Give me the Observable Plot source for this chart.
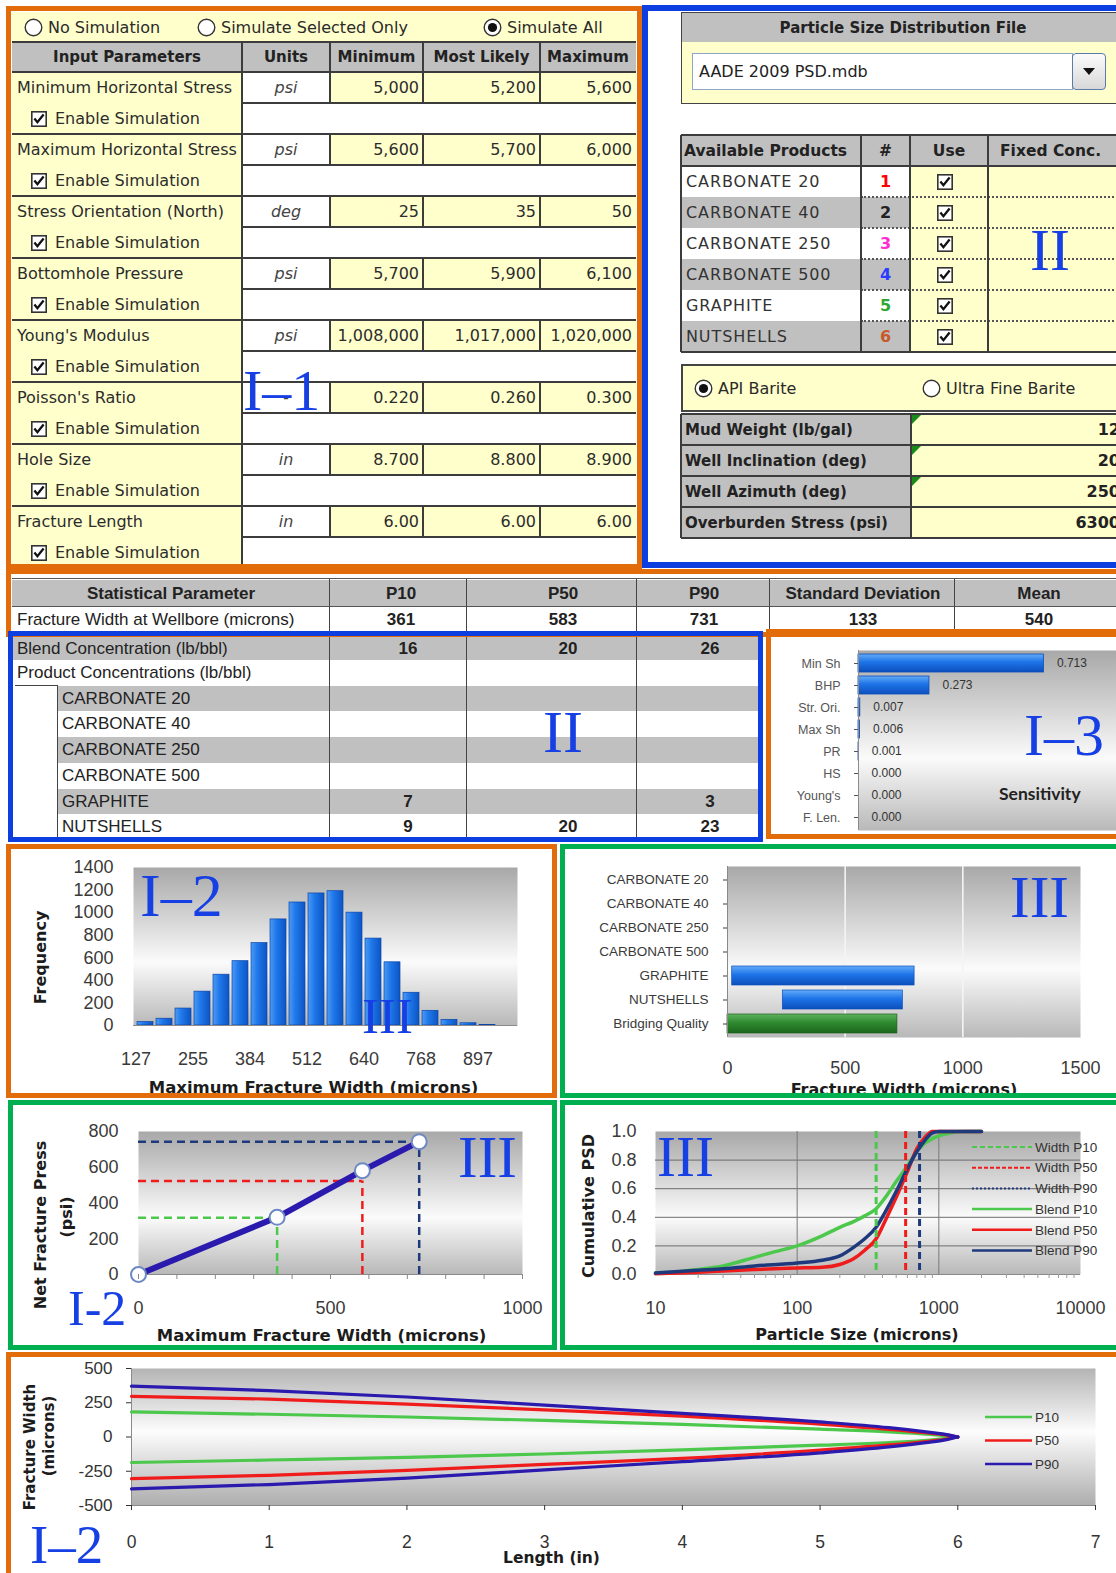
<!DOCTYPE html>
<html>
<head>
<meta charset="utf-8">
<script src="https://cdn.jsdelivr.net/npm/d3@7"></script>
<script src="https://cdn.jsdelivr.net/npm/@observablehq/plot@0.6"></script>
<style>
html,body{margin:0;padding:0;background:#fff;}
#page{position:relative;width:1116px;height:1573px;overflow:hidden;background:#fff;font-family:"DejaVu Sans",Verdana,sans-serif;color:#2c2c2c;}
.cell{position:absolute;box-sizing:border-box;display:flex;align-items:center;white-space:nowrap;overflow:hidden;}
.chart{position:absolute;z-index:5;}
.chart svg{max-width:none !important;background:transparent;overflow:visible;}
.big{position:absolute;z-index:30;font-family:"Liberation Serif","Times New Roman",serif;color:#1740e4;line-height:1;white-space:nowrap;}
</style>
</head>
<body>
<svg width="0" height="0" style="position:absolute">
<defs>
 <linearGradient id="plotBg" x1="0" y1="0" x2="0" y2="1">
  <stop offset="0" stop-color="#a8a8a8"/>
  <stop offset="0.6" stop-color="#fbfbfb"/>
  <stop offset="1" stop-color="#b8b8b8"/>
 </linearGradient>
 <linearGradient id="plotBg2" x1="0" y1="0" x2="0" y2="1">
  <stop offset="0" stop-color="#b4b4b4"/>
  <stop offset="0.46" stop-color="#fdfdfd"/>
  <stop offset="1" stop-color="#adadad"/>
 </linearGradient>
 <linearGradient id="barV" x1="0" y1="0" x2="1" y2="0">
  <stop offset="0" stop-color="#4d9af3"/>
  <stop offset="0.4" stop-color="#1f78ea"/>
  <stop offset="1" stop-color="#0d54c4"/>
 </linearGradient>
 <linearGradient id="barH" x1="0" y1="0" x2="0" y2="1">
  <stop offset="0" stop-color="#64acf8"/>
  <stop offset="0.45" stop-color="#1d74e8"/>
  <stop offset="1" stop-color="#0c4fbc"/>
 </linearGradient>
 <linearGradient id="barHG" x1="0" y1="0" x2="0" y2="1">
  <stop offset="0" stop-color="#5fb35f"/>
  <stop offset="0.45" stop-color="#2f8a2f"/>
  <stop offset="1" stop-color="#1c661c"/>
 </linearGradient>
</defs>
</svg>
<div id="page"></div>
<script>
// ================= DATA =================
const simOptions = ["No Simulation", "Simulate Selected Only", "Simulate All"];
const inputHeaders = ["Input Parameters", "Units", "Minimum", "Most Likely", "Maximum"];
const inputParams = ["Minimum Horizontal Stress", "Maximum Horizontal Stress", "Stress Orientation (North)", "Bottomhole Pressure", "Young's Modulus", "Poisson's Ratio", "Hole Size", "Fracture Length"];
const inputUnits = ["psi", "psi", "deg", "psi", "psi", "-", "in", "in"];
const inputMin = ["5,000", "5,600", "25", "5,700", "1,008,000", "0.220", "8.700", "6.00"];
const inputLikely = ["5,200", "5,700", "35", "5,900", "1,017,000", "0.260", "8.800", "6.00"];
const inputMax = ["5,600", "6,000", "50", "6,100", "1,020,000", "0.300", "8.900", "6.00"];
const enableLabel = "Enable Simulation";

const psdFileTitle = "Particle Size Distribution File";
const psdFile = "AADE 2009 PSD.mdb";
const productHeaders = ["Available Products", "#", "Use", "Fixed Conc."];
const products = ["CARBONATE 20", "CARBONATE 40", "CARBONATE 250", "CARBONATE 500", "GRAPHITE", "NUTSHELLS"];
const productNumbers = ["1", "2", "3", "4", "5", "6"];
const bariteOptions = ["API Barite", "Ultra Fine Barite"];
const mudParams = ["Mud Weight (lb/gal)", "Well Inclination (deg)", "Well Azimuth (deg)", "Overburden Stress (psi)"];
const mudValues = ["12", "20", "250", "6300"];

const statHeaders = ["Statistical Parameter", "P10", "P50", "P90", "Standard Deviation", "Mean"];
const statRowLabel = "Fracture Width at Wellbore (microns)";
const statValues = ["361", "583", "731", "133", "540"];

const blendRowLabels = ["Blend Concentration (lb/bbl)", "Product Concentrations (lb/bbl)"];
const blendTotals = ["16", "20", "26"];
const productConcP10 = ["", "", "", "", "7", "9"];
const productConcP50 = ["", "", "", "", "", "20"];
const productConcP90 = ["", "", "", "", "3", "23"];

const sensLabels = ["Min Sh", "BHP", "Str. Ori.", "Max Sh", "PR", "HS", "Young's", "F. Len."];
const sensValues = [0.713, 0.273, 0.007, 0.006, 0.001, 0.000, 0.000, 0.000];
const sensTitle = "Sensitivity";

const histBins = [127, 170, 212, 255, 298, 341, 384, 426, 469, 512, 555, 598, 640, 683, 726, 768, 811, 854, 897, 940];
const histFreq = [30, 60, 150, 300, 450, 570, 730, 940, 1090, 1170, 1190, 1000, 770, 560, 290, 130, 50, 20, 5, 0];
const histTicks = [127, 255, 384, 512, 640, 768, 897];
const histYTicks = [0, 200, 400, 600, 800, 1000, 1200, 1400];

const bqCats = ["CARBONATE 20", "CARBONATE 40", "CARBONATE 250", "CARBONATE 500", "GRAPHITE", "NUTSHELLS", "Bridging Quality"];
const bqLow = [null, null, null, null, 20, 235, 0];
const bqHigh = [null, null, null, null, 795, 745, 722];
const bqTicks = [0, 500, 1000, 1500];
const bqGrid = [500, 1000];

const nfWidth = [0, 361, 583, 731];
const nfPress = [0, 320, 581, 743];
const nfGuideWidth = [361, 583, 731];
const nfGuidePress = [318, 523, 743];
const nfTicks = [0, 500, 1000];
const nfMinorTicks = [0, 100, 200, 300, 400, 500, 600, 700, 800, 900, 1000];
const nfYTicks = [0, 200, 400, 600, 800];

const psdP10Size = [10, 15, 20, 30, 50, 70, 100, 150, 200, 250, 300, 361, 420, 500, 600, 700, 800, 900, 1000, 1200, 1500, 2000];
const psdP10Cum = [0.01, 0.02, 0.035, 0.06, 0.12, 0.16, 0.20, 0.27, 0.33, 0.37, 0.41, 0.46, 0.54, 0.65, 0.76, 0.86, 0.92, 0.95, 0.97, 0.99, 1.0, 1.0];
const psdP50Size = [10, 20, 30, 50, 100, 150, 200, 250, 300, 361, 420, 500, 600, 700, 800, 900, 1000, 2000];
const psdP50Cum = [0.005, 0.015, 0.025, 0.035, 0.045, 0.05, 0.07, 0.11, 0.17, 0.25, 0.38, 0.54, 0.72, 0.88, 0.96, 1.0, 1.0, 1.0];
const psdP90Size = [10, 20, 30, 50, 100, 150, 200, 250, 300, 361, 420, 500, 600, 700, 800, 900, 1000, 2000];
const psdP90Cum = [0.01, 0.03, 0.04, 0.06, 0.08, 0.10, 0.13, 0.19, 0.25, 0.33, 0.44, 0.58, 0.74, 0.86, 0.94, 0.99, 1.0, 1.0];
const psdWidthLines = [361, 583, 731];
const psdLegendLabels = ["Width P10", "Width P50", "Width P90", "Blend P10", "Blend P50", "Blend P90"];
const psdXTicks = [10, 100, 1000, 10000];
const psdMinorTicks = [20, 30, 40, 50, 60, 70, 80, 90, 200, 300, 400, 500, 600, 700, 800, 900, 2000, 3000, 4000, 5000, 6000, 7000, 8000, 9000];
const psdYTicks = [0, 0.2, 0.4, 0.6, 0.8, 1.0];
const psdGridY = [0.2, 0.4, 0.6, 0.8];
const psdGridX = [100, 1000];

const flLength = [0, 1, 2, 3, 4, 5, 5.5, 5.8, 5.9, 6];
const flP10Upper = [183, 166, 146, 121, 92, 57, 37, 19, 11, 0];
const flP10Lower = [-186, -168, -149, -124, -94, -60, -40, -22, -12, 0];
const flP50Upper = [297, 277, 240, 198, 153, 94, 56, 28, 17, 0];
const flP50Lower = [-304, -280, -243, -200, -156, -96, -58, -29, -18, 0];
const flP90Upper = [371, 339, 292, 232, 172, 110, 68, 34, 21, 0];
const flP90Lower = [-379, -347, -300, -240, -180, -116, -72, -37, -23, 0];
const flLegendLabels = ["P10", "P50", "P90"];
const flXTicks = [0, 1, 2, 3, 4, 5, 6, 7];
const flYTicks = [-500, -250, 0, 250, 500];

// ================= STYLES =================
const Y = "#ffffcc", G = "#c0c0c0", LINE = "#3c3c3c";
const ORANGE = "#e36c0a", BLUE = "#0d3fe0", GREEN = "#00b050";
const numColors = ["#ff0000", "#222222", "#ff2bd0", "#2a3cff", "#2ea82e", "#c65a28"];
const cGreen = "#4cc84c", cRed = "#f01c1c", cNavy = "#1f3a7c", cPurple = "#2a1aae";

const page = document.getElementById("page");
function cell(x, y, w, h, o = {}) {
  const d = document.createElement("div");
  d.className = "cell";
  d.style.left = x + "px"; d.style.top = y + "px";
  if (w != null) d.style.width = w + "px";
  if (h != null) d.style.height = h + "px";
  if (o.bg) d.style.background = o.bg;
  if (o.style) Object.assign(d.style, o.style);
  if (o.html != null) d.innerHTML = o.html;
  page.appendChild(d);
  return d;
}
function hline(x1, x2, y, w = 2, c = LINE, st = "solid") {
  cell(x1, y - w / 2, x2 - x1, w, {style: {borderTop: `${w}px ${st} ${c}`, zIndex: 3}});
}
function vline(x, y1, y2, w = 2, c = LINE) {
  cell(x - w / 2, y1, w, y2 - y1, {style: {borderLeft: `${w}px solid ${c}`, zIndex: 3}});
}
function frameBox(x, y, w, h, c, bw = 5) {
  cell(x, y, w, h, {style: {border: `${bw}px solid ${c}`, zIndex: 20, background: "transparent"}});
}
function big(t, x, capTop, size) {
  const d = document.createElement("div");
  d.className = "big"; d.textContent = t;
  d.style.left = x + "px"; d.style.top = (capTop - 0.1755 * size) + "px"; d.style.fontSize = size + "px";
  page.appendChild(d);
}
const checkbox = () => `<svg width="16" height="16" viewBox="0 0 16 16" style="flex:none"><rect x="0.8" y="0.8" width="14.4" height="14.4" fill="#fff" stroke="#333" stroke-width="1.6"/><path d="M3.4 7.6 L6.4 11.2 L12.6 3.6" fill="none" stroke="#111" stroke-width="2.3"/></svg>`;
const radio = on => `<svg width="19" height="19" viewBox="0 0 19 19" style="flex:none"><circle cx="9.5" cy="9.5" r="8.3" fill="#fff" stroke="#333" stroke-width="1.4"/>${on ? '<circle cx="9.5" cy="9.5" r="4.6" fill="#111"/>' : ''}</svg>`;
function place(svg, x, y) {
  const d = document.createElement("div");
  d.className = "chart"; d.style.left = x + "px"; d.style.top = y + "px";
  d.appendChild(svg); page.appendChild(d);
}
const baseStyle = {background: "transparent", overflow: "visible", fontFamily: "'Liberation Sans', Arial, sans-serif", fontSize: "18px", color: "#333"};
const axisTitle = (t, o) => Plot.text([t], {text: d => d, fontFamily: "'DejaVu Sans', sans-serif", fontWeight: "bold", fontSize: 16, fill: "#1c1c1c", lineAnchor: "middle", textAnchor: "middle", ...o});
const fmt = d => String(d);

// ================= PANEL I-1 : input parameters =================
const col1 = [12, 242, 330, 423, 540, 636];
cell(12, 12, 624, 30, {bg: Y});
const simX = [24, 197, 483];
simOptions.forEach((t, i) => cell(simX[i], 12, null, 30, {html: radio(i === 2) + `<span style="margin-left:5px">${t}</span>`, style: {fontSize: "16px", color: "#2a2a2a"}}));
cell(12, 42, 624, 30, {bg: G});
inputHeaders.forEach((h, j) => cell(col1[j], 42, col1[j + 1] - col1[j], 30, {html: h, style: {justifyContent: "center", fontWeight: "bold", fontSize: "15px", color: "#222"}}));
hline(12, 636, 42, 2); hline(12, 636, 72, 2.5);
for (let j = 1; j < 5; j++) vline(col1[j], 42, 72, 2);
inputParams.forEach((p, i) => {
  const y0 = 72 + 62 * i;
  cell(12, y0, 230, 31, {bg: Y, html: p, style: {paddingLeft: "5px", fontSize: "16px"}});
  cell(12, y0 + 31, 230, 31, {bg: Y, html: checkbox() + `<span style="margin-left:8px">${enableLabel}</span>`, style: {paddingLeft: "19px", fontSize: "16px"}});
  cell(242, y0, 88, 31, {bg: "#fff", html: inputUnits[i], style: {justifyContent: "center", fontStyle: "italic", fontSize: "16px", color: "#444"}});
  [inputMin, inputLikely, inputMax].forEach((arr, k) => cell(col1[k + 2], y0, col1[k + 3] - col1[k + 2], 31, {bg: Y, html: arr[i], style: {justifyContent: "flex-end", paddingRight: "4px", fontSize: "16px"}}));
  cell(242, y0 + 31, 394, 31, {bg: "#fff"});
  hline(12, 636, y0, 2); hline(242, 636, y0 + 31, 2);
  vline(242, y0, y0 + 62, 2);
  for (let k = 2; k < 5; k++) vline(col1[k], y0, y0 + 31, 2);
});

// ================= PANEL II : PSD & products =================
const R1 = 1125;
cell(681, 12, R1 - 681, 31, {bg: G, html: psdFileTitle, style: {justifyContent: "center", fontWeight: "bold", fontSize: "15px", border: "1.5px solid #444", color: "#222"}});
cell(681, 42, R1 - 681, 62, {bg: Y, style: {border: "1.5px solid #444", borderTop: "none"}});
cell(692, 53, 381, 37, {bg: "#fff", html: psdFile, style: {border: "1.5px solid #8ea6c8", paddingLeft: "6px", fontSize: "16px", color: "#222"}});
cell(1072, 53, 34, 37, {html: `<svg width="14" height="9"><path d="M1 1 L13 1 L7 8 Z" fill="#111"/></svg>`, style: {justifyContent: "center", background: "linear-gradient(#fbfbfb,#d8d8d8)", border: "1.5px solid #5b7bab", borderRadius: "4px", zIndex: 4}});

const pc = [681, 861, 910, 988, R1];
cell(681, 135, R1 - 681, 31, {bg: G});
productHeaders.forEach((h, j) => cell(pc[j], 135, pc[j + 1] - pc[j], 31, {html: h, style: {fontWeight: "bold", fontSize: "15.5px", color: "#222", justifyContent: (j === 1 || j === 2) ? "center" : "flex-start", paddingLeft: j === 0 ? "3px" : (j === 3 ? "12px" : "0")}}));
products.forEach((p, i) => {
  const y0 = 166 + 31 * i, bg = i % 2 ? G : "#fff";
  cell(681, y0, 180, 31, {bg, html: p, style: {paddingLeft: "5px", fontSize: "16px", letterSpacing: "0.9px", color: "#333"}});
  cell(861, y0, 49, 31, {bg, html: productNumbers[i], style: {justifyContent: "center", fontWeight: "bold", fontSize: "16px", color: numColors[i]}});
  cell(910, y0, 78, 31, {bg: Y, html: checkbox(), style: {justifyContent: "center", paddingRight: "8px"}});
  cell(988, y0, R1 - 988, 31, {bg: Y});
  if (i > 0) hline(861, R1, y0, 2, "#555", "dotted");
});
hline(681, R1, 135, 2); hline(681, R1, 166, 2); hline(681, R1, 352, 2.5);
[681, 861, 910, 988].forEach(x => vline(x, 135, 352, 2));

cell(681, 364, R1 - 681, 48, {bg: Y, style: {border: "2px solid #444"}});
[694, 922].forEach((x, i) => cell(x, 366, null, 44, {html: radio(i === 0) + `<span style="margin-left:5px">${bariteOptions[i]}</span>`, style: {fontSize: "16px", color: "#2a2a2a"}}));
mudParams.forEach((m, k) => {
  const y0 = 414 + 31 * k;
  cell(681, y0, 230, 31, {bg: G, html: m, style: {paddingLeft: "4px", fontWeight: "bold", fontSize: "15px", color: "#222"}});
  cell(911, y0, R1 - 911, 31, {bg: Y, html: mudValues[k], style: {justifyContent: "flex-end", paddingRight: "5px", fontWeight: "bold", fontSize: "16px", color: "#222"}});
  if (k < 3) cell(912, y0 + 1, 9, 9, {html: `<svg width="9" height="9"><path d="M0 0 L9 0 L0 9 Z" fill="#1a8a1a"/></svg>`, style: {zIndex: 4}});
  hline(681, R1, y0, 2);
});
hline(681, R1, 538, 2.5);
vline(681, 414, 538, 2); vline(911, 414, 538, 2);

// ================= Statistical table =================
const sc = [12, 330, 467, 637, 770, 955];
const sCenters = [171, 401, 563, 704, 863, 1039];
const tFont = "'Liberation Sans', Arial, sans-serif";
cell(12, 580, R1 - 12, 27, {bg: G});
cell(12, 607, R1 - 12, 25, {bg: "#fff"});
statHeaders.forEach((h, j) => cell(sCenters[j] - 110, 580, 220, 27, {html: h, style: {justifyContent: "center", fontWeight: "bold", fontSize: "17px", fontFamily: tFont, color: "#222", zIndex: 4, overflow: "visible"}}));
cell(12, 607, 318, 25, {html: statRowLabel, style: {paddingLeft: "5px", fontSize: "17px", fontFamily: tFont, color: "#222"}});
statValues.forEach((v, j) => cell(sCenters[j + 1] - 50, 607, 100, 25, {html: v, style: {justifyContent: "center", fontWeight: "bold", fontSize: "17px", fontFamily: tFont, color: "#222"}}));
hline(12, R1, 579, 1.5, "#555"); hline(12, R1, 607, 1.5, "#555");
sc.slice(1).forEach(x => vline(x, 579, 633, 1.5, "#444"));

// ================= Blend table =================
const bRowY = [637, 660, 686, 711, 737, 763, 789, 814, 840];
const bCenters = [408, 568, 710];
for (let r = 0; r < 8; r++) cell(r >= 2 ? 58 : 12, bRowY[r], 760 - (r >= 2 ? 58 : 12), bRowY[r + 1] - bRowY[r], {bg: r % 2 === 0 ? G : "#fff"});
blendRowLabels.forEach((t, r) => cell(12, bRowY[r], 318, bRowY[r + 1] - bRowY[r], {html: t, style: {paddingLeft: "5px", fontSize: "17px", fontFamily: tFont, color: "#222"}}));
blendTotals.forEach((v, j) => cell(bCenters[j] - 40, bRowY[0], 80, 23, {html: v, style: {justifyContent: "center", fontWeight: "bold", fontSize: "17px", fontFamily: tFont, color: "#222"}}));
products.forEach((p, i) => {
  const r = i + 2, y0 = bRowY[r], h = bRowY[r + 1] - y0;
  cell(58, y0, 272, h, {html: p, style: {paddingLeft: "4px", fontSize: "17px", fontFamily: tFont, color: "#222"}});
  [productConcP10, productConcP50, productConcP90].forEach((arr, j) => cell(bCenters[j] - 40, y0, 80, h, {html: arr[i], style: {justifyContent: "center", fontWeight: "bold", fontSize: "17px", fontFamily: tFont, color: "#222"}}));
});
cell(13, 686, 45, 154, {bg: "#fff"});
hline(15, 58, 686, 1.5, "#444"); vline(58, 686, 840, 1.5, "#444");
[330, 467, 637].forEach(x => vline(x, 633, 840, 1.5, "#444"));

// ================= Sensitivity chart =================
const sensData = sensLabels.map((k, i) => ({k, v: sensValues[i]}));
place(Plot.plot({
  width: 350, height: 200, marginLeft: 87, marginRight: 3, marginTop: 14, marginBottom: 6,
  style: {...baseStyle, fontSize: "12.5px"},
  x: {domain: [0, 1], axis: null},
  y: {domain: sensLabels, paddingInner: 0.16, paddingOuter: 0.05},
  marks: [
    Plot.frame({fill: "url(#plotBg)", stroke: "none"}),
    Plot.barX(sensData, {x: "v", y: "k", fill: "url(#barH)", stroke: "#0c4cbc", strokeWidth: 0.8}),
    Plot.ruleX([0], {stroke: "#8c8c8c"}),
    Plot.text(sensData, {x: "v", y: "k", text: d => d.v.toFixed(3), textAnchor: "start", dx: 13, fill: "#333", fontSize: 12}),
    Plot.axisY({tickSize: 4, tickPadding: 14, fontSize: 12.5, color: "#555", label: null})
  ]
}), 771, 636);
cell(999, 781, 110, 24, {html: sensTitle, style: {fontFamily: "Lato, 'Open Sans', sans-serif", fontWeight: "bold", fontSize: "17.5px", color: "#222", zIndex: 8}});

// ================= Histogram =================
const histData = histBins.map((b, i) => ({b, f: histFreq[i]}));
place(Plot.plot({
  width: 539, height: 243, marginLeft: 121, marginRight: 34, marginTop: 17, marginBottom: 68,
  style: baseStyle,
  x: {type: "band", domain: histBins, paddingInner: 0.16, paddingOuter: 0.08},
  y: {domain: [0, 1400]},
  marks: [
    Plot.frame({fill: "url(#plotBg)", stroke: "none"}),
    Plot.barY(histData, {x: "b", y: "f", fill: "url(#barV)", stroke: "#0a46aa", strokeWidth: 0.7}),
    Plot.ruleY([0], {stroke: "#8a8a8a"}),
    Plot.axisX({ticks: histTicks, tickFormat: fmt, tickSize: 0, tickPadding: 27, dx: -9.6, fontSize: 18, color: "#3a3a3a", label: null}),
    Plot.axisY({ticks: histYTicks, tickFormat: fmt, tickSize: 0, tickPadding: 20, fontSize: 18, color: "#3a3a3a", label: null}),
    axisTitle("Frequency", {frameAnchor: "left", dx: -93, dy: 11, rotate: -90}),
    axisTitle("Maximum Fracture Width (microns)", {frameAnchor: "bottom", dx: -12, dy: 62, fontSize: 16.5})
  ]
}), 12, 850);

// ================= Bridging bars =================
const bqData = bqCats.map((c, i) => ({c, lo: bqLow[i], hi: bqHigh[i]})).filter(d => d.hi != null);
place(Plot.plot({
  width: 550, height: 243, marginLeft: 161, marginRight: 36, marginTop: 16, marginBottom: 56,
  style: baseStyle,
  x: {domain: [0, 1500]},
  y: {domain: bqCats, paddingInner: 0.22, paddingOuter: 0.1},
  marks: [
    Plot.frame({fill: "url(#plotBg)", stroke: "none"}),
    Plot.ruleX(bqGrid, {stroke: "#f4f4f4", strokeWidth: 1.6}),
    Plot.barX(bqData.filter(d => d.c !== "Bridging Quality"), {y: "c", x1: "lo", x2: "hi", fill: "url(#barH)", stroke: "#0d4fc0", strokeWidth: 0.7}),
    Plot.barX(bqData.filter(d => d.c === "Bridging Quality"), {y: "c", x1: "lo", x2: "hi", fill: "url(#barHG)", stroke: "#1d5e1d", strokeWidth: 0.7}),
    Plot.ruleX([0], {stroke: "#8a8a8a"}),
    Plot.axisX({ticks: bqTicks, tickFormat: fmt, tickSize: 0, tickPadding: 24, fontSize: 18, color: "#3a3a3a", label: null}),
    Plot.axisY({tickSize: 4, tickPadding: 15, fontSize: 13.5, color: "#3a3a3a", label: null}),
    axisTitle("Fracture Width (microns)", {frameAnchor: "bottom", dy: 52})
  ]
}), 566, 850);

// ================= Net fracture pressure =================
const nfData = nfWidth.map((w, i) => ({w, p: nfPress[i]}));
const nfGuideColors = [cGreen, cRed, cNavy];
const nfGuides = nfGuideWidth.map((w, i) => ({w, p: nfGuidePress[i], c: nfGuideColors[i]}));
place(Plot.plot({
  width: 536, height: 238, marginLeft: 124, marginRight: 28, marginTop: 25, marginBottom: 70,
  style: baseStyle,
  x: {domain: [0, 1000]}, y: {domain: [0, 800]}, color: {type: "identity"},
  marks: [
    Plot.frame({fill: "url(#plotBg)", stroke: "none"}),
    Plot.ruleY([0], {stroke: "#8a8a8a"}),
    Plot.ruleY(nfGuides, {y: "p", x1: () => 0, x2: "w", stroke: "c", strokeWidth: 2.5, strokeDasharray: "8,5"}),
    Plot.ruleX(nfGuides, {x: "w", y1: () => 0, y2: "p", stroke: "c", strokeWidth: 2.5, strokeDasharray: "8,5"}),
    Plot.line(nfData, {x: "w", y: "p", stroke: cPurple, strokeWidth: 6}),
    Plot.dot(nfData, {x: "w", y: "p", r: 7.5, fill: "#fff", stroke: "#6d88c2", strokeWidth: 2}),
    Plot.axisX({ticks: nfMinorTicks, tickSize: 5, tickFormat: () => "", color: "#888", label: null}),
    Plot.axisX({ticks: nfTicks, tickFormat: fmt, tickSize: 0, tickPadding: 27, fontSize: 18, color: "#3a3a3a", label: null}),
    Plot.axisY({ticks: nfYTicks, tickFormat: fmt, tickSize: 0, tickPadding: 20, fontSize: 18, color: "#3a3a3a", label: null}),
    axisTitle("Net Fracture Press", {frameAnchor: "left", dx: -98, dy: 22, rotate: -90}),
    axisTitle("(psi)", {frameAnchor: "left", dx: -72, dy: 14, rotate: -90}),
    axisTitle("Maximum Fracture Width (microns)", {frameAnchor: "bottom", dx: -9, dy: 61, fontSize: 16.5})
  ]
}), 14, 1106);

// ================= Cumulative PSD =================
const psdSeries = [
  ...psdP10Size.map((s, i) => ({s, cum: psdP10Cum[i], k: "Blend P10", col: cGreen})),
  ...psdP50Size.map((s, i) => ({s, cum: psdP50Cum[i], k: "Blend P50", col: cRed})),
  ...psdP90Size.map((s, i) => ({s, cum: psdP90Cum[i], k: "Blend P90", col: cNavy}))
];
const psdWidths = psdWidthLines.map((w, i) => ({w, c: nfGuideColors[i]}));
place(Plot.plot({
  width: 550, height: 238, marginLeft: 89, marginRight: 36, marginTop: 25, marginBottom: 70,
  style: baseStyle,
  x: {type: "log", domain: [10, 10000]}, y: {domain: [0, 1]}, color: {type: "identity"},
  marks: [
    Plot.frame({fill: "url(#plotBg)", stroke: "none"}),
    Plot.ruleY(psdGridY, {stroke: "#6c6c6c", strokeWidth: 1}),
    Plot.ruleX(psdGridX, {stroke: "#7a7a7a", strokeWidth: 1}),
    Plot.ruleY([0], {stroke: "#8a8a8a"}),
    Plot.line(psdSeries, {x: "s", y: "cum", z: "k", stroke: "col", strokeWidth: 3.5, curve: "monotone-x"}),
    Plot.ruleX(psdWidths, {x: "w", stroke: "c", strokeWidth: 3, strokeDasharray: "7,4"}),
    Plot.axisX({ticks: psdMinorTicks, tickSize: 4, tickFormat: () => "", color: "#999", label: null}),
    Plot.axisX({ticks: psdXTicks, tickFormat: fmt, tickSize: 0, tickPadding: 27, fontSize: 18, color: "#3a3a3a", label: null}),
    Plot.axisY({ticks: psdYTicks, tickFormat: d => d.toFixed(1), tickSize: 0, tickPadding: 19, fontSize: 18, color: "#3a3a3a", label: null}),
    axisTitle("Cumulative PSD", {frameAnchor: "left", dx: -67, dy: 3, rotate: -90}),
    axisTitle("Particle Size (microns)", {frameAnchor: "bottom", dx: -11, dy: 60})
  ]
}), 566, 1106);

function legend(x, y, labels, colors, dashes, widths, rowH, len, fs) {
  let s = `<svg width="${len + 90}" height="${rowH * labels.length + 6}" style="overflow:visible">`;
  labels.forEach((t, i) => {
    const cy = rowH * i + 4;
    s += `<line x1="0" x2="${len}" y1="${cy}" y2="${cy}" stroke="${colors[i]}" stroke-width="${widths[i]}" ${dashes[i] ? `stroke-dasharray="${dashes[i]}"` : ""}/>`;
    s += `<text x="${len + 3}" y="${cy}" dy="0.35em" font-family="Liberation Sans, Arial" font-size="${fs}" fill="#333">${t}</text>`;
  });
  s += "</svg>";
  cell(x, y - 4, len + 90, rowH * labels.length + 6, {html: s, style: {zIndex: 8, overflow: "visible", alignItems: "flex-start"}});
}
legend(972, 1147, psdLegendLabels, [cGreen, cRed, cNavy, cGreen, cRed, cNavy], ["5,3", "4,2", "2,2", null, null, null], [2, 2, 2, 2.5, 2.5, 2.5], 20.7, 60, 13.5);

// ================= Fracture width profile =================
const flColors = [cGreen, cRed, cPurple];
const flSeries = [];
[[flP10Upper, flP10Lower], [flP50Upper, flP50Lower], [flP90Upper, flP90Lower]].forEach((pair, j) => {
  pair.forEach((arr, u) => arr.forEach((w, i) => flSeries.push({x: flLength[i], w, k: flLegendLabels[j] + (u ? " lower" : " upper"), col: flColors[j]})));
});
place(Plot.plot({
  width: 1104, height: 215, marginLeft: 119, marginRight: 21, marginTop: 10, marginBottom: 68,
  style: baseStyle,
  x: {domain: [0, 7]}, y: {domain: [-500, 500]}, color: {type: "identity"},
  marks: [
    Plot.frame({fill: "url(#plotBg2)", stroke: "none"}),
    Plot.ruleX([0], {stroke: "#8a8a8a"}),
    Plot.ruleY([-500], {stroke: "#8a8a8a"}),
    Plot.line(flSeries, {x: "x", y: "w", z: "k", stroke: "col", strokeWidth: 3.2, curve: "monotone-x"}),
    Plot.axisX({ticks: flXTicks, tickFormat: fmt, tickSize: 5, tickPadding: 25, fontSize: 17.5, color: "#333", label: null}),
    Plot.axisY({ticks: flYTicks, tickFormat: fmt, tickSize: 5, tickPadding: 14, fontSize: 17, color: "#333", label: null}),
    axisTitle("Fracture Width", {frameAnchor: "left", dx: -101, dy: 10, rotate: -90, fontSize: 15}),
    axisTitle("(microns)", {frameAnchor: "left", dx: -82, dy: -1, rotate: -90, fontSize: 15}),
    axisTitle("Length (in)", {frameAnchor: "bottom", dx: -62, dy: 53, fontSize: 15.5})
  ]
}), 12, 1358);
legend(985, 1417, flLegendLabels, flColors, [null, null, null], [2.6, 2.6, 2.6], 23.5, 47, 13.5);

// ================= Panel borders =================
frameBox(6, 6, 636, 563, ORANGE);
frameBox(642, 5, 490, 563, BLUE, 6);
frameBox(6, 569, 1125, 68, ORANGE);
frameBox(8, 631, 755, 211, BLUE, 5);
frameBox(766, 629, 360, 210, ORANGE);
frameBox(6, 844, 551, 254, ORANGE);
frameBox(560, 844, 565, 254, GREEN);
frameBox(8, 1100, 549, 250, GREEN);
frameBox(560, 1100, 565, 250, GREEN);
frameBox(6, 1352, 1125, 240, ORANGE);

// ================= Section markers =================
big("I–1", 243, 372, 58);
big("II", 1030, 231, 60);
big("II", 543, 713, 60);
big("I–3", 1024, 716, 60);
big("I–2", 140, 875, 62);
big("III", 362, 1000, 51);
big("III", 1010, 878, 59);
big("III", 458, 1138, 59);
big("III", 657, 1138, 57);
big("I-2", 68, 1292, 50);
big("I–2", 30, 1527, 55);
</script>
</body>
</html>
